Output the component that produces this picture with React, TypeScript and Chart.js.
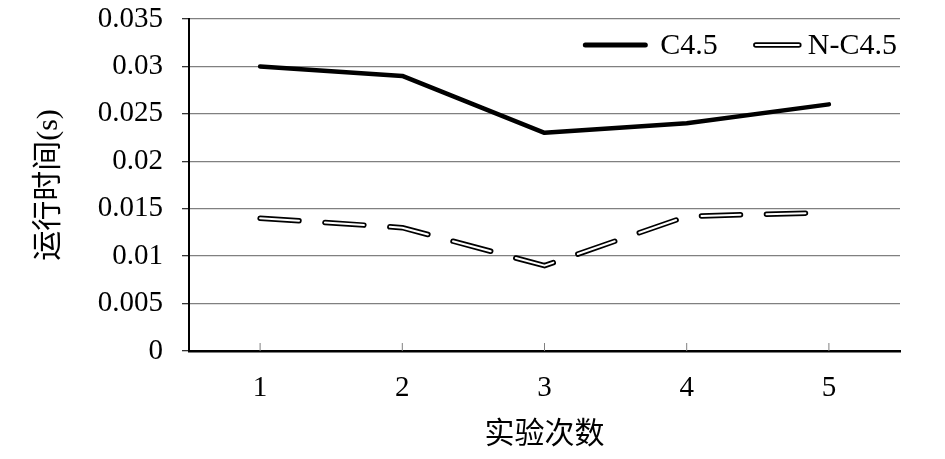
import { useEffect, useRef } from 'react';
import { Chart, registerables } from 'chart.js';

Chart.register(...registerables);

const categories = ['1', '2', '3', '4', '5'];
const c45Values = [0.03, 0.029, 0.023, 0.024, 0.026];
const nc45Values = [0.014, 0.013, 0.009, 0.0142, 0.0146];
const yTickLabels = ['0', '0.005', '0.01', '0.015', '0.02', '0.025', '0.03', '0.035'];
const seriesNames = ['C4.5', 'N-C4.5'];
const xTitle = '实验次数';
const yTitle = '运行时间(s)';

const LATIN = '"Liberation Serif", "Times New Roman", serif';
const MIXED = '"Liberation Serif", "Noto Sans CJK SC", serif';
const DASH = [39, 26];

const innerTicks = {
  id: 'innerTicks',
  beforeDatasetsDraw(chart: any) {
    const { ctx, chartArea, scales } = chart;
    const xs = scales.x;
    ctx.save();
    ctx.strokeStyle = '#808080';
    ctx.lineWidth = 1;
    xs.ticks.forEach((_t: any, i: number) => {
      const px = xs.getPixelForTick(i);
      ctx.beginPath();
      ctx.moveTo(px, chartArea.bottom - 8);
      ctx.lineTo(px, chartArea.bottom);
      ctx.stroke();
    });
    ctx.restore();
  },
};

const customLegend = {
  id: 'customLegend',
  afterDraw(chart: any) {
    const { ctx, chartArea } = chart;
    ctx.save();
    ctx.font = `30px ${LATIN}`;
    ctx.textBaseline = 'middle';
    ctx.textAlign = 'left';
    ctx.fillStyle = '#000';
    const cy = chartArea.top + 26;
    const end = chartArea.right - 3;
    // N-C4.5 item
    const w2 = ctx.measureText(seriesNames[1]).width;
    const t2 = end - w2;
    ctx.fillText(seriesNames[1], t2, cy + 1);
    const s2b = t2 - 9;
    const s2a = s2b - 43;
    ctx.lineCap = 'round';
    ctx.strokeStyle = '#000';
    ctx.lineWidth = 5.5;
    ctx.beginPath();
    ctx.moveTo(s2a, cy);
    ctx.lineTo(s2b, cy);
    ctx.stroke();
    ctx.strokeStyle = '#fff';
    ctx.lineWidth = 2;
    ctx.beginPath();
    ctx.moveTo(s2a, cy);
    ctx.lineTo(s2b, cy);
    ctx.stroke();
    // C4.5 item
    const w1 = ctx.measureText(seriesNames[0]).width;
    const t1end = s2a - 38;
    const t1 = t1end - w1;
    ctx.fillStyle = '#000';
    ctx.fillText(seriesNames[0], t1, cy + 1);
    ctx.strokeStyle = '#000';
    ctx.lineWidth = 5;
    ctx.beginPath();
    ctx.moveTo(t1 - 15 - 60, cy);
    ctx.lineTo(t1 - 15, cy);
    ctx.stroke();
    ctx.restore();
  },
};

export default function App() {
  const ref = useRef<HTMLCanvasElement | null>(null);

  useEffect(() => {
    if (!ref.current) return;
    const chart = new Chart(ref.current, {
      type: 'line',
      data: {
        labels: categories,
        datasets: [
          {
            label: seriesNames[0],
            data: c45Values,
            borderColor: '#000',
            borderWidth: 4.5,
            pointRadius: 0,
            tension: 0,
            borderCapStyle: 'round',
            borderJoinStyle: 'round',
            order: 0,
          },
          {
            label: seriesNames[1],
            data: nc45Values,
            borderColor: '#fff',
            borderWidth: 2,
            borderDash: DASH,
            pointRadius: 0,
            tension: 0,
            borderCapStyle: 'round',
            borderJoinStyle: 'round',
            order: 1,
          },
          {
            label: seriesNames[1] + ' outline',
            data: nc45Values,
            borderColor: '#000',
            borderWidth: 5.5,
            borderDash: DASH,
            pointRadius: 0,
            tension: 0,
            borderCapStyle: 'round',
            borderJoinStyle: 'round',
            order: 2,
          },
        ],
      },
      options: {
        animation: false,
        responsive: true,
        maintainAspectRatio: false,
        layout: { padding: { left: 0, right: 45, top: 19, bottom: 0 } },
        plugins: {
          legend: { display: false },
          tooltip: { enabled: false },
        },
        scales: {
          x: {
            type: 'category',
            offset: true,
            grid: { display: false, drawTicks: false },
            border: { display: true, color: '#000', width: 2.5 },
            ticks: {
              color: '#000',
              font: { family: LATIN, size: 29 },
              padding: 20,
              maxRotation: 0,
            },
            title: {
              display: true,
              text: xTitle,
              color: '#000',
              font: { family: MIXED, size: 30 },
              padding: { top: 0, bottom: 6 },
            },
            afterFit(scale: any) {
              scale.height = 108;
              scale.paddingLeft = 0;
              scale.paddingRight = 0;
            },
          },
          y: {
            min: 0,
            max: 0.035,
            ticks: {
              stepSize: 0.005,
              color: '#000',
              font: { family: LATIN, size: 29 },
              padding: 19,
              callback: (_v: any, i: number) => yTickLabels[i],
            },
            grid: {
              color: '#808080',
              lineWidth: 1.3,
              tickLength: 7,
              tickColor: '#333',
            },
            border: { display: true, color: '#000', width: 2 },
            title: {
              display: true,
              text: yTitle,
              color: '#000',
              font: { family: MIXED, size: 30 },
              padding: { top: 31, bottom: 0 },
            },
            afterFit(scale: any) {
              scale.width = 189;
              scale.paddingTop = 0;
              scale.paddingBottom = 0;
            },
          },
        },
      },
      plugins: [innerTicks, customLegend],
    });
    return () => chart.destroy();
  }, []);

  return (
    <div style={{ position: 'fixed', left: 0, top: 0, width: 945, height: 459, background: '#fff' }}>
      <canvas ref={ref} />
    </div>
  );
}
